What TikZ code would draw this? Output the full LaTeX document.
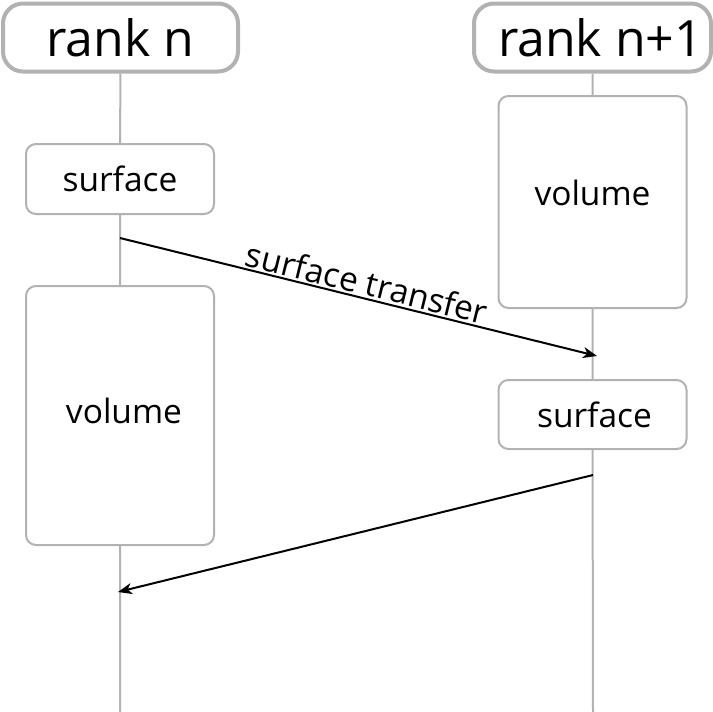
\documentclass[tikz,border=0pt]{standalone}
\usepackage{fontspec}
\setmainfont{Open Sans}
\usetikzlibrary{arrows.meta,positioning}

\begin{document}
\begin{tikzpicture}[x=1pt,y=-1pt,
    rank/.style={draw=black!30,line width=4pt,rounded corners=20pt,fill=white,
                 minimum width=235pt,minimum height=68pt,inner sep=0pt,font=\fontsize{50}{50}\selectfont},
    task/.style={draw=black!30,line width=2pt,rounded corners=10pt,fill=white,
                 minimum width=188pt,inner sep=0pt,font=\fontsize{33.5}{33.5}\selectfont},
    life/.style={draw=black!30,line width=2pt},
    msg/.style={draw=black,line width=2pt,-{Stealth[length=14pt,width=11pt,inset=4pt]}}]

\useasboundingbox (0,0) rectangle (713,712);

\node[rank] (rankn) at (120.5,37.5) {rank n};
\node[rank,minimum width=237pt] (ranknn) at (592.5,37.5) {\hspace{16pt}rank n+1};

\node[task,minimum height=70pt] (surfn) at (120,179) {surface};
\node[task,minimum height=259pt,text height=25pt,text depth=10pt] (voln) at (120,415.5) {\hspace{8pt}volume};
\node[task,minimum height=212pt,text height=25pt,text depth=18pt] (volnn) at (592.5,202) {volume};
\node[task,minimum height=69pt] (surfnn) at (592.5,414.5) {\hspace{4pt}surface};

\coordinate (endn) at (120,712);
\coordinate (endnn) at (593,712);
\draw[life] (rankn) -- (surfn) -- (voln) -- (endn);
\draw[life] (ranknn) -- (volnn) -- (surfnn) -- (endnn);

\coordinate (out1) at (120,238);
\coordinate (in1) at (597,356);
\coordinate (out2) at (593,475);
\coordinate (in2) at (118,592);
\draw[msg] (out1) -- node[sloped,above,inner sep=2pt,pos=0.51,font=\fontsize{33.5}{33.5}\selectfont] {surface transfer} (in1);
\draw[msg] (out2) -- (in2);

\end{tikzpicture}
\end{document}
